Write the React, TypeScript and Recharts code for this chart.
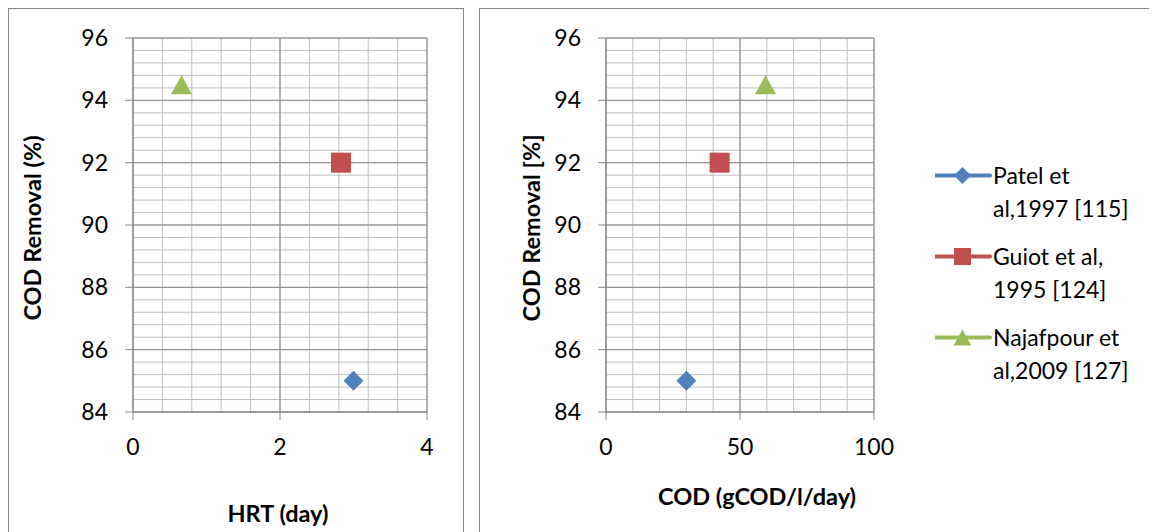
import React from 'react';
import { ScatterChart, Scatter, XAxis, YAxis, CartesianGrid, Legend } from 'recharts';

// series
const seriesNames = ['Patel et al,1997 [115]', 'Guiot et al, 1995 [124]', 'Najafpour et al,2009 [127]'];
const legendLines = [
  ['Patel et', 'al,1997 [115]'],
  ['Guiot et al,', '1995 [124]'],
  ['Najafpour et', 'al,2009 [127]'],
];
const seriesColors = ['#4F81BD', '#C0504D', '#9BBB59'];
const seriesShapes = ['diamond', 'square', 'triangle'];

// values
const codRemoval = [85, 92, 94.5];
const hrtDays = [3.0, 2.83, 0.66];
const codLoading = [30, 42.4, 59.5];

// axes
const yTicks = [84, 86, 88, 90, 92, 94, 96];
const hrtTicks = [0, 2, 4];
const codTicks = [0, 50, 100];

// minor gridlines (Excel style, 5 per major step)
const steps = (from: number, to: number, step: number) => {
  const out: number[] = [];
  for (let v = from; v <= to + 1e-9; v += step) out.push(Math.round(v * 1000) / 1000);
  return out;
};
const yMinor = steps(84, 96, 0.4);
const hrtMinor = steps(0, 4, 0.4);
const codMinor = steps(0, 100, 10);

const FONT = 'Lato, "Open Sans", sans-serif';
const AXIS_GRAY = '#868686';
const MINOR_GRAY = '#BDBDBD';

function Marker({ cx, cy, kind, color, r = 10 }: { cx: number; cy: number; kind: string; color: string; r?: number }) {
  if (kind === 'diamond') {
    return <polygon points={`${cx},${cy - r} ${cx + r},${cy} ${cx},${cy + r} ${cx - r},${cy}`} fill={color} />;
  }
  if (kind === 'square') {
    return <rect x={cx - r} y={cy - r} width={2 * r} height={2 * r} fill={color} />;
  }
  return (
    <polygon
      points={`${cx},${cy - r * 0.95} ${cx + r * 1.05},${cy + r * 0.95} ${cx - r * 1.05},${cy + r * 0.95}`}
      fill={color}
    />
  );
}

const tickStyle = { fill: '#000', fontSize: 23, fontFamily: FONT };
const titleStyle = { fill: '#000', fontSize: 23.5, fontWeight: 700, fontFamily: FONT };

function LegendBox() {
  return (
    <div style={{ fontFamily: FONT, fontSize: 23, color: '#000' }}>
      {seriesNames.map((name, i) => (
        <div key={name} style={{ display: 'flex', alignItems: 'flex-start', marginBottom: 15 }}>
          <svg width={58} height={33} style={{ flex: 'none' }}>
            <line x1={0} y1={16.5} x2={55} y2={16.5} stroke={seriesColors[i]} strokeWidth={4} strokeLinecap="round" />
            <Marker cx={27.5} cy={16.5} kind={seriesShapes[i]} color={seriesColors[i]} r={8.5} />
          </svg>
          <div style={{ lineHeight: '33px', whiteSpace: 'nowrap' }}>
            {legendLines[i][0]}
            <br />
            {legendLines[i][1]}
          </div>
        </div>
      ))}
    </div>
  );
}

function Panel({
  xValues,
  xDomain,
  xTicks,
  xMinor,
  width,
  yAxisWidth,
  marginRight,
  yTitle,
  yTitleOffset,
  xTitle,
  xTitleOffset,
  xTitleDx,
  withLegend,
}: {
  xValues: number[];
  xDomain: [number, number];
  xTicks: number[];
  xMinor: number[];
  width: number;
  yAxisWidth: number;
  marginRight: number;
  yTitle: string;
  yTitleOffset: number;
  xTitle: string;
  xTitleOffset: number;
  xTitleDx: number;
  withLegend?: boolean;
}) {
  return (
    <ScatterChart width={width} height={530} margin={{ top: 29, right: marginRight, bottom: 0, left: 0 }}>
      <CartesianGrid stroke={MINOR_GRAY} horizontalValues={yMinor} verticalValues={xMinor} />
      <CartesianGrid stroke={AXIS_GRAY} horizontalValues={yTicks} verticalValues={xTicks} />
      <XAxis
        type="number"
        dataKey="x"
        domain={xDomain}
        ticks={xTicks}
        interval={0}
        height={127}
        tickSize={8}
        tickMargin={19}
        axisLine={{ stroke: AXIS_GRAY }}
        tickLine={{ stroke: AXIS_GRAY }}
        tick={tickStyle}
        label={{ value: xTitle, position: 'insideBottom', offset: xTitleOffset, dx: xTitleDx, style: titleStyle }}
      />
      <YAxis
        type="number"
        dataKey="y"
        domain={[84, 96]}
        ticks={yTicks}
        interval={0}
        width={yAxisWidth}
        tickSize={8}
        tickMargin={17}
        axisLine={{ stroke: AXIS_GRAY }}
        tickLine={{ stroke: AXIS_GRAY }}
        tick={tickStyle}
        label={{
          value: yTitle,
          angle: -90,
          position: 'insideLeft',
          offset: yTitleOffset,
          dy: 3,
          textAnchor: 'middle',
          style: { ...titleStyle, textAnchor: 'middle' },
        }}
      />
      {seriesNames.map((name, i) => (
        <Scatter
          key={name}
          name={name}
          data={[{ x: xValues[i], y: codRemoval[i] }]}
          fill={seriesColors[i]}
          isAnimationActive={false}
          shape={(p: any) => <Marker cx={p.cx} cy={p.cy} kind={seriesShapes[i]} color={seriesColors[i]} />}
        />
      ))}
      {withLegend && (
        <Legend
          layout="vertical"
          align="center"
          verticalAlign="middle"
          wrapperStyle={{ left: 455, top: 149.5, width: 230 }}
          content={() => <LegendBox />}
        />
      )}
    </ScatterChart>
  );
}

export default function App() {
  return (
    <div style={{ position: 'relative', width: 1149, height: 524, overflow: 'hidden', fontFamily: FONT }}>
      <div
        style={{
          position: 'absolute',
          left: 0,
          top: 0,
          width: 454,
          height: 540,
          border: `1px solid ${AXIS_GRAY}`,
          background: '#fff',
        }}
      >
        <Panel
          xValues={hrtDays}
          xDomain={[0, 4]}
          xTicks={hrtTicks}
          xMinor={hrtMinor}
          width={454}
          yAxisWidth={124}
          marginRight={36}
          yTitle="COD Removal (%)"
          yTitleOffset={24}
          xTitle="HRT (day)"
          xTitleOffset={17}
          xTitleDx={-2}
        />
      </div>
      <div
        style={{
          position: 'absolute',
          left: 471,
          top: 0,
          width: 700,
          height: 540,
          border: `1px solid ${AXIS_GRAY}`,
          background: '#fff',
        }}
      >
        <Panel
          xValues={codLoading}
          xDomain={[0, 100]}
          xTicks={codTicks}
          xMinor={codMinor}
          width={700}
          yAxisWidth={126}
          marginRight={306}
          yTitle="COD Removal [%]"
          yTitleOffset={52}
          xTitle="COD (gCOD/l/day)"
          xTitleOffset={34}
          xTitleDx={17}
          withLegend
        />
      </div>
    </div>
  );
}
